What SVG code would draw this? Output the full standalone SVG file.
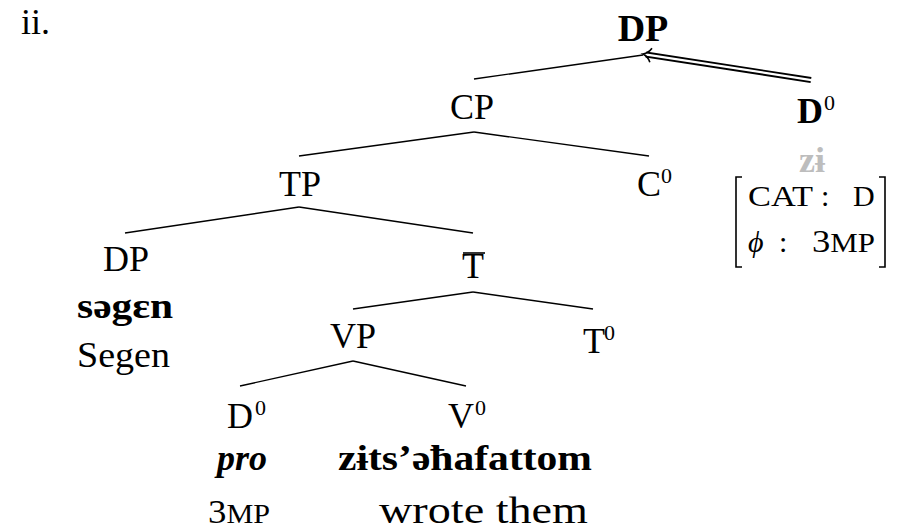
<svg xmlns="http://www.w3.org/2000/svg" width="901" height="530" viewBox="0 0 901 530" font-family="'Liberation Serif', 'DejaVu Serif', serif">
<style>
text{font-family:"Liberation Serif","DejaVu Serif",serif;font-size:36px;fill:#000}
.b{font-weight:bold}
.sup{font-size:22px}
.sm{font-size:30px}
.gray{fill:#bdbdbd}
.edge{stroke:#000;stroke-width:1.4;fill:none}
.brk{stroke:#000;stroke-width:1.6;fill:none}
</style>
<rect width="901" height="530" fill="#fff"/>
<text x="21" y="34">ii.</text>
<g id="connectors">
<line class="edge" x1="474" y1="79" x2="643" y2="55"/>
<line class="edge" x1="474" y1="132" x2="299" y2="156"/>
<line class="edge" x1="474" y1="132" x2="649" y2="156"/>
<line class="edge" x1="299" y1="207" x2="125" y2="233"/>
<line class="edge" x1="299" y1="207" x2="473" y2="233"/>
<line class="edge" x1="473" y1="292" x2="353" y2="309"/>
<line class="edge" x1="473" y1="292" x2="593" y2="309"/>
<line class="edge" x1="353" y1="361" x2="240" y2="386"/>
<line class="edge" x1="353" y1="361" x2="466" y2="386"/>
<g id="move-arrow" transform="translate(643,54) rotate(8.8)">
<line x1="3" y1="0" x2="170" y2="0" stroke="#000" stroke-width="6"/>
<line x1="2" y1="0" x2="172" y2="0" stroke="#fff" stroke-width="2.2"/>
<path d="M8,-7 C6,-3 3,-1 0,0 C3,1 6,3 8,7" stroke="#000" stroke-width="1.6" fill="none"/>
</g>
</g>
<g id="n-DP-top"><text class="b" x="643" y="41" text-anchor="middle" style="font-size:38px">DP</text></g>
<g id="n-CP"><text x="472" y="119" text-anchor="middle">CP</text></g>
<g id="n-D0-top">
<text class="b" x="797" y="123">D</text>
<text class="sup" x="824" y="110">0</text>
<text class="b gray" x="812" y="172" text-anchor="middle">zɨ</text>
<path class="brk" d="M742,177 H736 V267 H742"/>
<path class="brk" d="M879,177 H885 V267 H879"/>
<text class="sm" x="748" y="206" textLength="65" lengthAdjust="spacingAndGlyphs">CAT</text>
<text class="sm" x="821" y="206">:</text>
<text class="sm" x="853" y="206">D</text>
<text class="sm" x="748" y="252" style="font-style:italic">ϕ</text>
<text class="sm" x="779" y="252">:</text>
<text x="812" y="252" textLength="63" lengthAdjust="spacingAndGlyphs" style="font-size:32px">3<tspan style="font-size:27px">MP</tspan></text>
</g>
<g id="n-TP"><text x="300" y="196" text-anchor="middle">TP</text></g>
<g id="n-C0"><text x="637" y="196">C</text><text class="sup" x="661" y="183">0</text></g>
<g id="n-DP"><text x="126" y="271" text-anchor="middle">DP</text>
<text class="b" x="77" y="318" textLength="96" lengthAdjust="spacingAndGlyphs">səgɛn</text>
<text x="77" y="367" textLength="93" lengthAdjust="spacingAndGlyphs">Segen</text></g>
<g id="n-Tbar"><text x="473" y="278" text-anchor="middle">T</text><line x1="463" y1="253" x2="485" y2="253" stroke="#000" stroke-width="1.6"/></g>
<g id="n-VP"><text x="353" y="348" text-anchor="middle">VP</text></g>
<g id="n-T0"><text x="583" y="353">T</text><text class="sup" x="604" y="340">0</text></g>
<g id="n-D0"><text x="227" y="428">D</text><text class="sup" x="255" y="415">0</text>
<text class="b" x="217" y="470" style="font-style:italic">pro</text>
<text x="208" y="523" textLength="62" lengthAdjust="spacingAndGlyphs" style="font-size:33px">3<tspan style="font-size:27px">MP</tspan></text></g>
<g id="n-V0"><text x="448" y="428">V</text><text class="sup" x="475" y="415">0</text>
<text class="b" x="338" y="470" textLength="254" lengthAdjust="spacingAndGlyphs">zɨts’əħafattom</text>
<text x="379" y="523" textLength="209" lengthAdjust="spacingAndGlyphs" style="font-size:38px">wrote them</text></g>
</svg>
